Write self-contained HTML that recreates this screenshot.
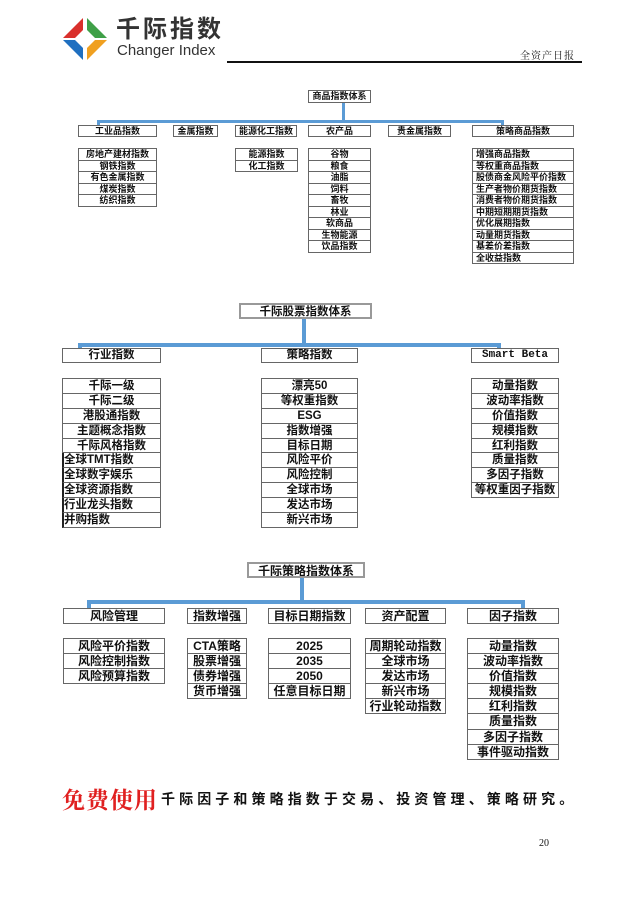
<!DOCTYPE html>
<html><head><meta charset="utf-8">
<style>
*{margin:0;padding:0;box-sizing:border-box}
body{width:640px;height:905px;background:#fff;position:relative;overflow:hidden;font-family:"Liberation Sans","Noto Sans CJK SC",sans-serif;color:#111}
.a{position:absolute}
.b{position:absolute;border:1px solid #666;text-align:center;font-weight:bold;white-space:nowrap;overflow:hidden}
.l{position:absolute;border:1px solid #666;border-bottom:none;text-align:center;font-weight:bold;white-space:nowrap}
.l div{border-bottom:1px solid #666;overflow:hidden}
.s1{font-size:9px}
.s1 div{height:11.5px;line-height:11px}
.s2{font-size:11.5px}
.s2 div{height:14.9px;line-height:14px}
.s3{font-size:12px}
.s3 div{height:15.1px;line-height:14px}
.ln{position:absolute;background:#5b9bd5}
</style></head><body>
<svg class="a" style="left:0;top:0" width="120" height="70">
<polygon points="63,38 83,18 83,30 75,38" fill="#d9302c"/>
<polygon points="87,18 107,38 95,38 87,30" fill="#3fa048"/>
<polygon points="63,40 75,40 83,48 83,60" fill="#1f6fc0"/>
<polygon points="107,40 87,60 87,48 95,40" fill="#f0a020"/>
</svg>
<div class="a" style="left:116px;top:12px;font-size:24px;line-height:30px;font-weight:bold;letter-spacing:3px;color:#333;font-family:'Noto Sans CJK SC',sans-serif">千际指数</div>
<div class="a" style="left:117px;top:43px;font-size:15px;line-height:16px;color:#333">Changer Index</div>
<div class="a" style="left:520px;top:47px;font-size:10px;font-family:'Noto Serif CJK SC',serif;letter-spacing:1px">全资产日报</div>
<div class="a" style="left:227px;top:61px;width:355px;height:2px;background:#111"></div>

<!-- Section 1 -->
<div class="ln" style="left:342px;top:102px;width:3px;height:21px"></div>
<div class="ln" style="left:97px;top:120px;width:407px;height:3px;border-radius:2px"></div>
<div class="ln" style="left:97px;top:120px;width:3px;height:5px"></div>
<div class="ln" style="left:501px;top:120px;width:3px;height:5px"></div>
<div class="b s1" style="left:308px;top:90px;width:63px;height:13px;line-height:11px">商品指数体系</div>
<div class="b s1" style="left:78px;top:125px;width:79px;height:12px;line-height:10px">工业品指数</div>
<div class="b s1" style="left:173px;top:125px;width:45px;height:12px;line-height:10px">金属指数</div>
<div class="b s1" style="left:235px;top:125px;width:62px;height:12px;line-height:10px">能源化工指数</div>
<div class="b s1" style="left:308px;top:125px;width:63px;height:12px;line-height:10px">农产品</div>
<div class="b s1" style="left:388px;top:125px;width:63px;height:12px;line-height:10px">贵金属指数</div>
<div class="b s1" style="left:472px;top:125px;width:102px;height:12px;line-height:10px">策略商品指数</div>
<div class="l s1" style="left:78px;top:148px;width:79px"><div>房地产建材指数</div><div>钢铁指数</div><div>有色金属指数</div><div>煤炭指数</div><div>纺织指数</div></div>
<div class="l s1" style="left:235px;top:148px;width:63px"><div>能源指数</div><div>化工指数</div></div>
<div class="l s1" style="left:308px;top:148px;width:63px"><div>谷物</div><div>粮食</div><div>油脂</div><div>饲料</div><div>畜牧</div><div>林业</div><div>软商品</div><div>生物能源</div><div>饮品指数</div></div>
<div class="l s1" style="left:472px;top:148px;width:102px;text-align:left"><div style="padding-left:3px">增强商品指数</div><div style="padding-left:3px">等权重商品指数</div><div style="padding-left:3px">股债商金风险平价指数</div><div style="padding-left:3px">生产者物价期货指数</div><div style="padding-left:3px">消费者物价期货指数</div><div style="padding-left:3px">中期短期期货指数</div><div style="padding-left:3px">优化展期指数</div><div style="padding-left:3px">动量期货指数</div><div style="padding-left:3px">基差价差指数</div><div style="padding-left:3px">全收益指数</div></div>

<!-- Section 2 -->
<div class="ln" style="left:302px;top:319px;width:4px;height:27px"></div>
<div class="ln" style="left:78px;top:343px;width:423px;height:4px;border-radius:2px"></div>
<div class="ln" style="left:78px;top:343px;width:4px;height:6px"></div>
<div class="ln" style="left:497px;top:343px;width:4px;height:6px"></div>
<div class="b s2" style="left:239px;top:303px;width:133px;height:16px;line-height:14px;border-width:2px;border-color:#999">千际股票指数体系</div>
<div class="b s2" style="left:62px;top:348px;width:99px;height:15px;line-height:13px">行业指数</div>
<div class="b s2" style="left:261px;top:348px;width:97px;height:15px;line-height:13px">策略指数</div>
<div class="b s2" style="left:471px;top:348px;width:88px;height:15px;line-height:13px;font-family:'Liberation Mono',monospace;font-size:11px">Smart Beta</div>
<div class="l s2" style="left:62px;top:378px;width:99px"><div>千际一级</div><div>千际二级</div><div>港股通指数</div><div>主题概念指数</div><div>千际风格指数</div><div style="text-align:left;border-left:2px solid #222;margin-left:-1px">全球TMT指数</div><div style="text-align:left;border-left:2px solid #222;margin-left:-1px">全球数字娱乐</div><div style="text-align:left;border-left:2px solid #222;margin-left:-1px">全球资源指数</div><div style="text-align:left;border-left:2px solid #222;margin-left:-1px">行业龙头指数</div><div style="text-align:left;border-left:2px solid #222;margin-left:-1px">并购指数</div></div>
<div class="l s2" style="left:261px;top:378px;width:97px"><div>漂亮50</div><div>等权重指数</div><div>ESG</div><div>指数增强</div><div>目标日期</div><div>风险平价</div><div>风险控制</div><div>全球市场</div><div>发达市场</div><div>新兴市场</div></div>
<div class="l s2" style="left:471px;top:378px;width:88px"><div>动量指数</div><div>波动率指数</div><div>价值指数</div><div>规模指数</div><div>红利指数</div><div>质量指数</div><div>多因子指数</div><div>等权重因子指数</div></div>

<!-- Section 3 -->
<div class="ln" style="left:300px;top:577px;width:4px;height:26px"></div>
<div class="ln" style="left:87px;top:600px;width:438px;height:4px;border-radius:2px"></div>
<div class="ln" style="left:87px;top:600px;width:4px;height:8px"></div>
<div class="ln" style="left:521px;top:600px;width:4px;height:8px"></div>
<div class="b s3" style="left:247px;top:562px;width:118px;height:16px;line-height:14px;border-width:2px;border-color:#999">千际策略指数体系</div>
<div class="b s3" style="left:63px;top:608px;width:102px;height:16px;line-height:14px">风险管理</div>
<div class="b s3" style="left:187px;top:608px;width:60px;height:16px;line-height:14px">指数增强</div>
<div class="b s3" style="left:268px;top:608px;width:83px;height:16px;line-height:14px">目标日期指数</div>
<div class="b s3" style="left:365px;top:608px;width:81px;height:16px;line-height:14px">资产配置</div>
<div class="b s3" style="left:467px;top:608px;width:92px;height:16px;line-height:14px">因子指数</div>
<div class="l s3" style="left:63px;top:638px;width:102px"><div>风险平价指数</div><div>风险控制指数</div><div>风险预算指数</div></div>
<div class="l s3" style="left:187px;top:638px;width:60px"><div>CTA策略</div><div>股票增强</div><div>债券增强</div><div>货币增强</div></div>
<div class="l s3" style="left:268px;top:638px;width:83px"><div>2025</div><div>2035</div><div>2050</div><div>任意目标日期</div></div>
<div class="l s3" style="left:365px;top:638px;width:81px"><div>周期轮动指数</div><div>全球市场</div><div>发达市场</div><div>新兴市场</div><div>行业轮动指数</div></div>
<div class="l s3" style="left:467px;top:638px;width:92px"><div>动量指数</div><div>波动率指数</div><div>价值指数</div><div>规模指数</div><div>红利指数</div><div>质量指数</div><div>多因子指数</div><div>事件驱动指数</div></div>

<div class="a" style="left:62px;top:782px;font-size:23px;font-weight:bold;color:#e02020;font-family:'Noto Serif CJK SC',serif;letter-spacing:1px;white-space:nowrap">免费使用</div>
<div class="a" style="left:161px;top:789px;font-size:14px;letter-spacing:4.1px;font-weight:bold;white-space:nowrap">千际因子和策略指数于交易、投资管理、策略研究。</div>
<div class="a" style="left:539px;top:838px;font-size:10px;font-family:'Liberation Serif',serif">20</div>
</body></html>
